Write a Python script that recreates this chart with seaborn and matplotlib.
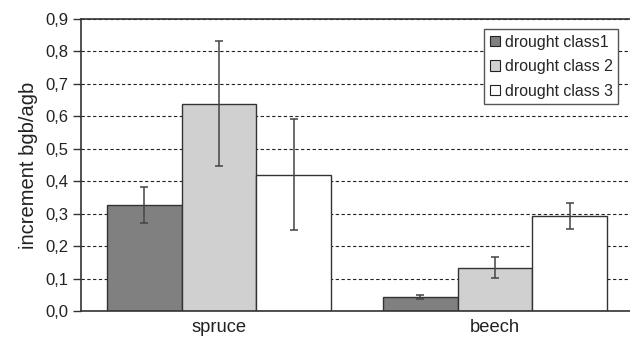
import matplotlib
matplotlib.use("Agg")
import matplotlib.pyplot as plt
import matplotlib.ticker as mticker
import seaborn as sns
import pandas as pd
import numpy as np

# ---- data ----
species = ["spruce", "beech"]
classes = ["drought class1", "drought class 2", "drought class 3"]
values_spruce = [0.328, 0.638, 0.418]
values_beech = [0.044, 0.132, 0.293]
err_low_spruce = [0.270, 0.446, 0.250]
err_high_spruce = [0.382, 0.831, 0.591]
err_low_beech = [0.036, 0.101, 0.252]
err_high_beech = [0.049, 0.165, 0.334]
yticks = [0.0, 0.1, 0.2, 0.3, 0.4, 0.5, 0.6, 0.7, 0.8, 0.9]

sns.set_style("ticks")
plt.rcParams["font.family"] = ["Liberation Sans", "DejaVu Sans"]

rows = []
for sp, vals in zip(species, [values_spruce, values_beech]):
    for c, v in zip(classes, vals):
        rows.append({"species": sp, "cls": c, "value": v})
df = pd.DataFrame(rows)

fig = plt.figure(figsize=(6.3, 3.38), dpi=100)
ax = fig.add_axes([81 / 630, 1 - 311 / 338, 552 / 630, 292 / 338])

palette = {classes[0]: "#808080", classes[1]: "#cfd0cf", classes[2]: "#ffffff"}
sns.barplot(data=df, x="species", y="value", hue="cls", order=species,
            hue_order=classes, palette=palette, width=0.815, errorbar=None,
            edgecolor="#333333", linewidth=1.0, saturation=1, ax=ax)

lows = [err_low_spruce, err_low_beech]
highs = [err_high_spruce, err_high_beech]
bar_conts = list(ax.containers)
for hi, cont in enumerate(bar_conts):
    for si, bar in enumerate(cont):
        xc = bar.get_x() + bar.get_width() / 2
        v = bar.get_height()
        lo = lows[si][hi]
        hh = highs[si][hi]
        ax.errorbar([xc], [v], yerr=[[v - lo], [hh - v]], fmt="none",
                    ecolor="#444444", elinewidth=1.1, capsize=3, capthick=1.1,
                    zorder=5)

ax.set_xlim(-0.5, 1.5)
ax.set_ylim(0, 0.9)
ax.set_yticks(yticks)
ax.yaxis.set_major_formatter(mticker.FuncFormatter(lambda v, p: f"{v:.1f}".replace(".", ",")))
ax.tick_params(axis="y", direction="out", length=6, width=1, color="#333333",
               labelsize=12, labelcolor="#222222", pad=3)
ax.tick_params(axis="x", length=0, labelsize=13.2, labelcolor="#222222", pad=6)
ax.set_xlabel("")
ax.set_ylabel("increment bgb/agb", fontsize=14.5, color="#222222", labelpad=5)

ax.set_axisbelow(True)
ax.yaxis.grid(True, linestyle=(0, (3, 2.2)), color="#222222", linewidth=0.8)

for s in ["left", "top", "bottom"]:
    ax.spines[s].set_visible(True)
    ax.spines[s].set_color("#333333")
    ax.spines[s].set_linewidth(1.2)
ax.spines["right"].set_visible(False)

leg = ax.legend(loc="upper left", frameon=True, fancybox=False,
                fontsize=11.4, handlelength=0.66, handleheight=0.66,
                handletextpad=0.3, borderpad=0.35, labelspacing=0.6,
                borderaxespad=0, edgecolor="#555555", framealpha=1)
leg.set_bbox_to_anchor((484 / 630, 1 - 29 / 338), transform=fig.transFigure)
leg.get_frame().set_linewidth(1.0)
for h in leg.legend_handles:
    h.set_edgecolor("#222222")
    h.set_linewidth(0.8)

fig.savefig("out.png", dpi=100)
